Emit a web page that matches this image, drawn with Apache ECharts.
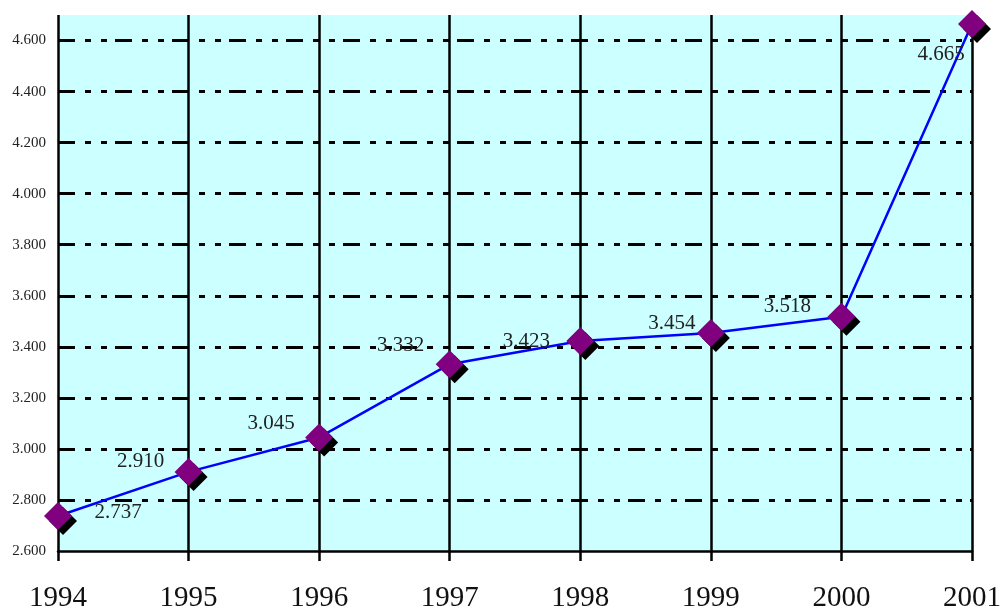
<!DOCTYPE html>
<html>
<head>
<meta charset="utf-8">
<script src="https://cdn.jsdelivr.net/npm/echarts@6/dist/echarts.min.js"></script>
<style>
  html, body { margin: 0; padding: 0; background: #fff; }
  #chart { width: 1004px; height: 609px; }
</style>
</head>
<body>
<div id="chart"></div>
<script>
const years = ['1994', '1995', '1996', '1997', '1998', '1999', '2000', '2001']
const values = [2.737, 2.910, 3.045, 3.332, 3.423, 3.454, 3.518, 4.665]
const valueLabels = ['2.737', '2.910', '3.045', '3.332', '3.423', '3.454', '3.518', '4.665']
// label offsets relative to each point, in px
const labelOffsets = [[60, -4], [-48, -10], [-48, -14], [-49, -19], [-54, 1], [-39, -10], [-54, -10], [-31, 31]]

const serif = '"Liberation Serif", "Times New Roman", serif'

const chart = echarts.init(document.getElementById('chart'))

chart.setOption({
  animation: false,
  grid: {
    left: 58, right: 32, top: 15, bottom: 58,
    outerBoundsMode: 'none',
    show: true, backgroundColor: '#CCFFFF', borderWidth: 0,
  },
  xAxis: {
    type: 'category',
    data: years,
    boundaryGap: false,
    axisLine: { lineStyle: { color: '#000', width: 2.5 } },
    axisTick: { show: true, length: 10, lineStyle: { color: '#000', width: 2.5 } },
    axisLabel: { fontFamily: serif, fontSize: 29, color: '#111', margin: 33 },
    splitLine: { show: true, lineStyle: { color: '#000', width: 2.5 } },
  },
  yAxis: {
    type: 'value',
    min: 2.6,
    max: 4.7,
    interval: 0.2,
    axisLine: { show: false },
    axisTick: { show: false },
    axisLabel: {
      fontFamily: serif, fontSize: 15, color: '#222', margin: 12,
      showMaxLabel: false,
      formatter: (v) => v.toFixed(3),
    },
    splitLine: {
      show: true,
      showMinLine: false,
      showMaxLine: false,
      lineStyle: { color: '#000', width: 3, type: [17, 10, 6, 10, 6, 8] },
    },
  },
  series: [{
    type: 'line',
    data: values.map((v, i) => ({
      value: v,
      label: {
        show: true,
        position: 'inside',
        offset: labelOffsets[i],
        formatter: valueLabels[i],
      },
    })),
    clip: false,
    symbol: 'diamond',
    symbolSize: [28, 28],
    lineStyle: { color: '#0000FF', width: 2.5 },
    itemStyle: {
      color: '#800080',
      shadowColor: '#000',
      shadowOffsetX: 5,
      shadowOffsetY: 5,
      shadowBlur: 0,
    },
    label: { fontFamily: serif, fontSize: 21, color: '#222' },
    z: 5,
  }],
})
</script>
</body>
</html>
